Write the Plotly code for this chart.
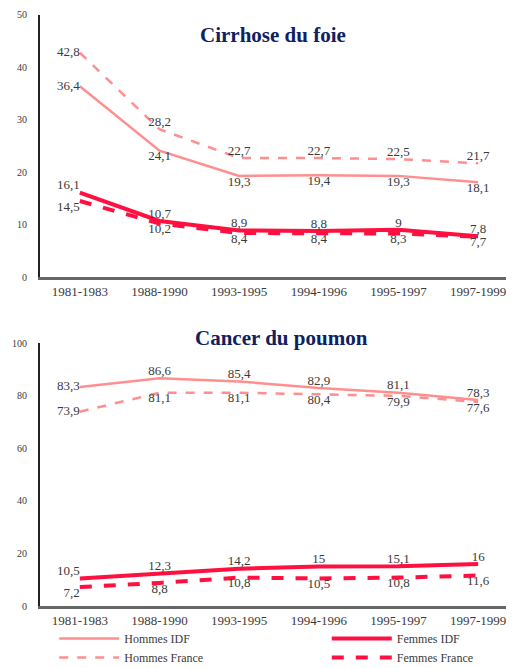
import plotly.graph_objects as go

periodes = ["1981-1983", "1988-1990", "1993-1995", "1994-1996", "1995-1997", "1997-1999"]

# Cirrhose du foie
cir_hommes_idf = [36.4, 24.1, 19.3, 19.4, 19.3, 18.1]
cir_hommes_fr = [42.8, 28.2, 22.7, 22.7, 22.5, 21.7]
cir_femmes_idf = [16.1, 10.7, 8.9, 8.8, 9.0, 7.8]
cir_femmes_fr = [14.5, 10.2, 8.4, 8.4, 8.3, 7.7]

# Cancer du poumon
pou_hommes_idf = [83.3, 86.6, 85.4, 82.9, 81.1, 78.3]
pou_hommes_fr = [73.9, 81.1, 81.1, 80.4, 79.9, 77.6]
pou_femmes_idf = [10.5, 12.3, 14.2, 15.0, 15.1, 16.0]
pou_femmes_fr = [7.2, 8.8, 10.8, 10.5, 10.8, 11.6]

ROSE = "#ff8f8f"
ROUGE = "#ff1040"
TXT = "#3a3a3a"
SERIF = "Liberation Serif, Times New Roman, serif"


def lab(v):
    s = f"{v:.1f}".replace(".", ",")
    return s[:-2] if s.endswith(",0") else s


def pos(first, rest):
    return [first] + [rest] * 5


def trace(y, name, color, width, dash, first, where, xa, ya, leg, show):
    return go.Scatter(
        x=periodes, y=y, name=name, mode="lines+text",
        text=[lab(v) for v in y], textposition=pos(first, where),
        textfont=dict(family=SERIF, size=13, color=TXT),
        line=dict(color=color, width=width, dash=dash),
        xaxis=xa, yaxis=ya, showlegend=show, legend=leg, legendgroup=name,
        cliponaxis=False,
    )


fig = go.Figure()

# haut
fig.add_trace(trace(cir_hommes_idf, "Hommes IDF", ROSE, 2.5, "solid", "middle left", "bottom center", "x", "y", "legend", True))
fig.add_trace(trace(cir_hommes_fr, "Hommes France", ROSE, 2.5, "dash", "middle left", "top center", "x", "y", "legend", True))
fig.add_trace(trace(cir_femmes_idf, "Femmes IDF", ROUGE, 4, "solid", "top left", "top center", "x", "y", "legend2", True))
fig.add_trace(trace(cir_femmes_fr, "Femmes France", ROUGE, 4, "dash", "bottom left", "bottom center", "x", "y", "legend2", True))

# bas
fig.add_trace(trace(pou_hommes_idf, "Hommes IDF", ROSE, 2.5, "solid", "middle left", "top center", "x2", "y2", "legend", False))
fig.add_trace(trace(pou_hommes_fr, "Hommes France", ROSE, 2.5, "dash", "middle left", "bottom center", "x2", "y2", "legend", False))
fig.add_trace(trace(pou_femmes_idf, "Femmes IDF", ROUGE, 4, "solid", "top left", "top center", "x2", "y2", "legend2", False))
fig.add_trace(trace(pou_femmes_fr, "Femmes France", ROUGE, 4, "dash", "bottom left", "bottom center", "x2", "y2", "legend2", False))

xcommon = dict(
    type="category", range=[-0.5, 5.45], showgrid=False, ticks="",
    showline=True, linecolor="#666666", linewidth=3,
    tickfont=dict(family=SERIF, size=13, color=TXT),
)
ycommon = dict(
    showgrid=False, zeroline=False,
    ticks="outside", ticklen=9, tickcolor="white",
    showline=True, linecolor="#222222", linewidth=2,
    tickfont=dict(family=SERIF, size=10, color=TXT),
)
legcommon = dict(
    orientation="v", y=0.0667, xanchor="left", yanchor="top",
    itemwidth=60, bgcolor="rgba(0,0,0,0)", tracegroupgap=0,
    font=dict(family=SERIF, size=12, color=TXT),
)

# la page html ajoute 8 px de marge autour du graphique
fig.update_layout(
    width=506, height=660,
    margin=dict(l=32, r=0, t=0, b=0, autoexpand=False),
    paper_bgcolor="white", plot_bgcolor="white",
    xaxis=dict(xcommon, anchor="y"),
    yaxis=dict(ycommon, domain=[0.5924, 0.9894], range=[0, 50], dtick=10, anchor="x"),
    xaxis2=dict(xcommon, anchor="y2"),
    yaxis2=dict(ycommon, domain=[0.0939, 0.4924], range=[0, 100], dtick=20, anchor="x2"),
    legend=dict(legcommon, x=0.03),
    legend2=dict(legcommon, x=0.605),
    annotations=[
        dict(text="<b>Cirrhose du foie</b>", x=0.4916, y=0.980, xref="paper", yref="paper",
             showarrow=False, font=dict(family=SERIF, size=21, color="#10215f")),
        dict(text="<b>Cancer du poumon</b>", x=0.5105, y=0.50, xref="paper", yref="paper",
             showarrow=False, font=dict(family=SERIF, size=21, color="#10215f")),
    ],
)

fig.write_html("out.html")
